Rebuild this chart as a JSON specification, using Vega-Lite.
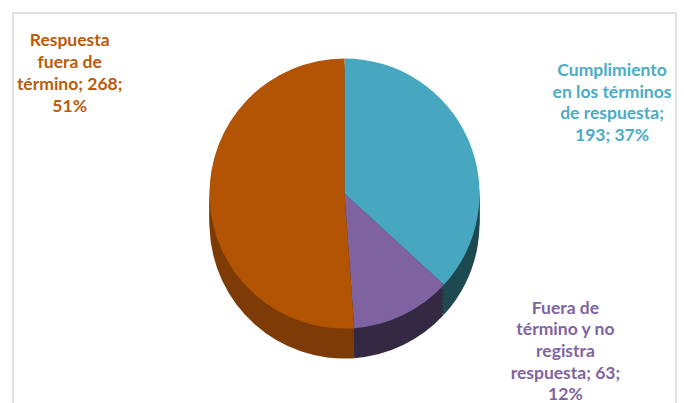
{
  "$schema": "https://vega.github.io/schema/vega-lite/v6.json",
  "autosize": "none",
  "width": 663,
  "height": 393,
  "padding": {"left": 13, "top": 13, "right": 8, "bottom": -3},
  "background": "white",
  "view": {"stroke": "#D9D9D9", "strokeWidth": 1.5, "fill": "white"},
  "data": {"values": [
    {"categoria": "Cumplimiento en los términos de respuesta", "valor": 193, "orden": 1, "etiqueta": "Cumplimiento|en los términos|de respuesta;|193; 37%"},
    {"categoria": "Fuera de término y no registra respuesta", "valor": 63, "orden": 2, "etiqueta": "Fuera de|término y no|registra|respuesta; 63;|12%"},
    {"categoria": "Respuesta fuera de término", "valor": 268, "orden": 3, "etiqueta": "Respuesta|fuera de|término; 268;|51%"}
  ]},
  "encoding": {
    "theta": {"field": "valor", "type": "quantitative", "stack": true},
    "order": {"field": "orden", "type": "quantitative", "sort": "ascending"}
  },
  "layer": [
    {"mark": {"type": "arc", "radius": 135, "yOffset": 14},
     "encoding": {"color": {"field": "categoria", "type": "nominal", "legend": null,
       "scale": {"domain": ["Cumplimiento en los términos de respuesta", "Fuera de término y no registra respuesta", "Respuesta fuera de término"], "range": ["#1F4951", "#342943", "#7E3B06"]}}}},
    {"mark": {"type": "arc", "radius": 135, "yOffset": 10},
     "encoding": {"color": {"field": "categoria", "type": "nominal", "legend": null,
       "scale": {"domain": ["Cumplimiento en los términos de respuesta", "Fuera de término y no registra respuesta", "Respuesta fuera de término"], "range": ["#1F4951", "#342943", "#7E3B06"]}}}},
    {"mark": {"type": "arc", "radius": 135, "yOffset": 6},
     "encoding": {"color": {"field": "categoria", "type": "nominal", "legend": null,
       "scale": {"domain": ["Cumplimiento en los términos de respuesta", "Fuera de término y no registra respuesta", "Respuesta fuera de término"], "range": ["#1F4951", "#342943", "#7E3B06"]}}}},
    {"mark": {"type": "arc", "radius": 135, "yOffset": 2},
     "encoding": {"color": {"field": "categoria", "type": "nominal", "legend": null,
       "scale": {"domain": ["Cumplimiento en los términos de respuesta", "Fuera de término y no registra respuesta", "Respuesta fuera de término"], "range": ["#1F4951", "#342943", "#7E3B06"]}}}},
    {"mark": {"type": "arc", "radius": 135, "yOffset": -2},
     "encoding": {"color": {"field": "categoria", "type": "nominal", "legend": null,
       "scale": {"domain": ["Cumplimiento en los términos de respuesta", "Fuera de término y no registra respuesta", "Respuesta fuera de término"], "range": ["#1F4951", "#342943", "#7E3B06"]}}}},
    {"mark": {"type": "arc", "radius": 135, "yOffset": -6},
     "encoding": {"color": {"field": "categoria", "type": "nominal", "legend": null,
       "scale": {"domain": ["Cumplimiento en los términos de respuesta", "Fuera de término y no registra respuesta", "Respuesta fuera de término"], "range": ["#1F4951", "#342943", "#7E3B06"]}}}},
    {"mark": {"type": "arc", "radius": 135, "yOffset": -10},
     "encoding": {"color": {"field": "categoria", "type": "nominal", "legend": null,
       "scale": {"domain": ["Cumplimiento en los términos de respuesta", "Fuera de término y no registra respuesta", "Respuesta fuera de término"], "range": ["#1F4951", "#342943", "#7E3B06"]}}}},
    {"mark": {"type": "arc", "radius": 135, "yOffset": -16},
     "encoding": {"color": {"field": "categoria", "type": "nominal", "legend": null,
       "scale": {"domain": ["Cumplimiento en los términos de respuesta", "Fuera de término y no registra respuesta", "Respuesta fuera de término"], "range": ["#47A7C1", "#7E63A0", "#B35405"]}}}},
    {"mark": {"type": "text", "radius": 290, "dx": 2, "dy": -22, "align": "center", "baseline": "middle", "lineBreak": "|", "lineHeight": 21.7, "font": "Lato", "fontWeight": "bold", "fontSize": 17.5, "color": "#4BACC6"},
     "encoding": {"detail": {"field": "categoria"}, "text": {"condition": {"test": "datum.orden === 1", "field": "etiqueta"}, "value": ""}}},
    {"mark": {"type": "text", "radius": 200, "dx": 134, "dy": -81, "align": "center", "baseline": "middle", "lineBreak": "|", "lineHeight": 21.7, "font": "Lato", "fontWeight": "bold", "fontSize": 17.5, "color": "#8064A2"},
     "encoding": {"detail": {"field": "categoria"}, "text": {"condition": {"test": "datum.orden === 2", "field": "etiqueta"}, "value": ""}}},
    {"mark": {"type": "text", "radius": 276, "dx": 1, "dy": -178, "align": "center", "baseline": "middle", "lineBreak": "|", "lineHeight": 21.7, "font": "Lato", "fontWeight": "bold", "fontSize": 17.5, "color": "#BA5B0B"},
     "encoding": {"detail": {"field": "categoria"}, "text": {"condition": {"test": "datum.orden === 3", "field": "etiqueta"}, "value": ""}}}
  ],
  "resolve": {"scale": {"color": "independent"}}
}
